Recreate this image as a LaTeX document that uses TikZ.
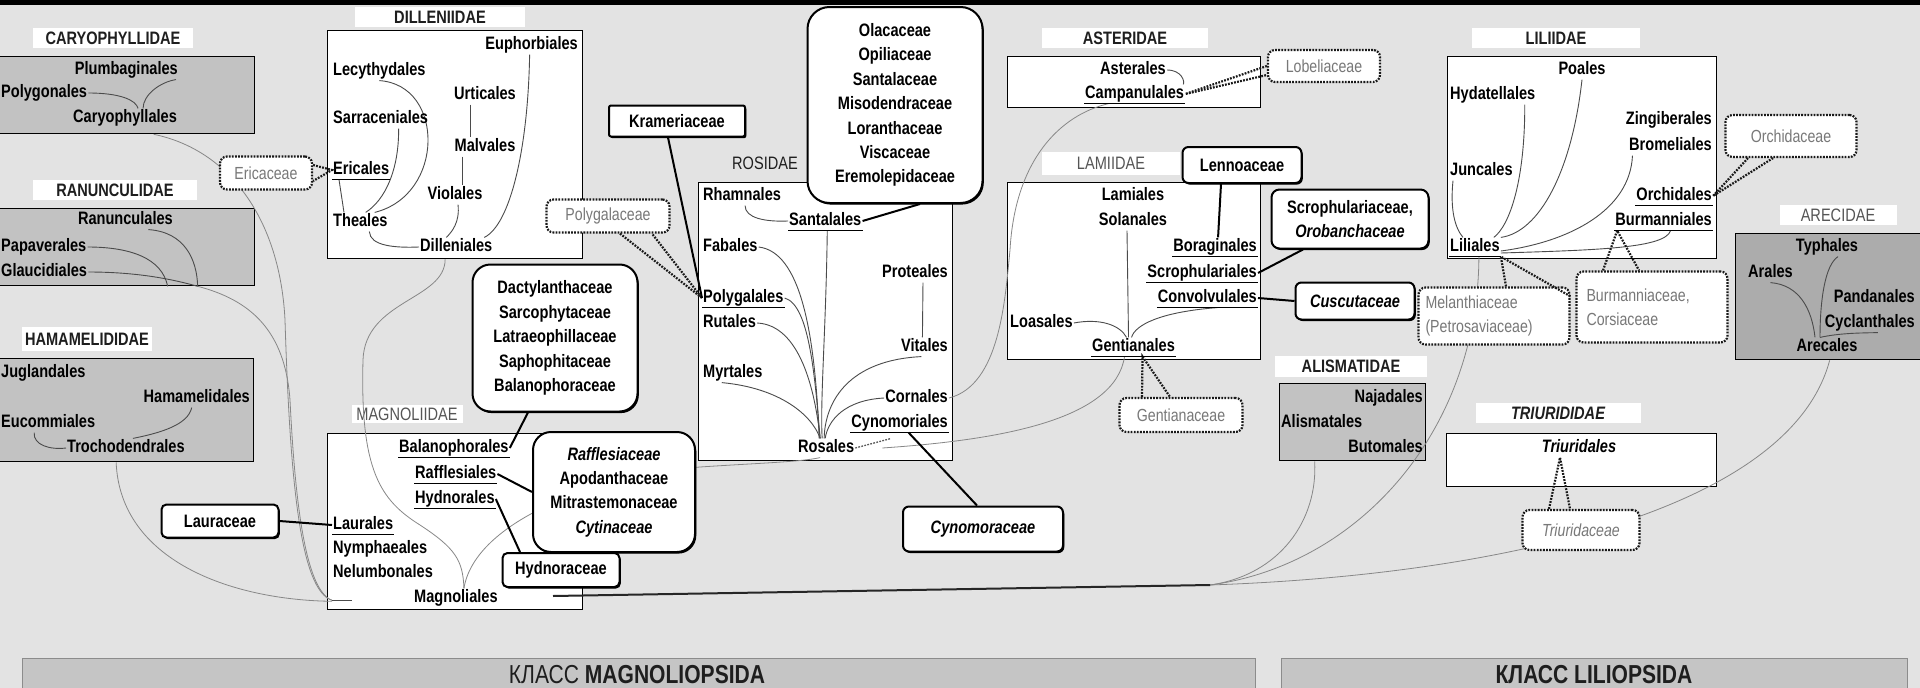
\documentclass[tikz,border=0pt]{standalone}
\usepackage{fontspec}
\setmainfont{Liberation Sans}
\newfontfamily\nf[FakeStretch=0.81]{Liberation Sans}
\usetikzlibrary{shadows,calc}
\definecolor{bgc}{RGB}{227,227,227}
\definecolor{gbox}{RGB}{194,194,194}
\definecolor{abox}{RGB}{172,172,172}
\definecolor{barc}{RGB}{197,197,197}
\definecolor{inln}{RGB}{75,75,75}
\definecolor{outln}{RGB}{135,135,135}
\definecolor{calt}{RGB}{120,120,120}
\definecolor{labt}{RGB}{30,30,30}
\definecolor{labg}{RGB}{85,85,85}
\newcommand\ordf{\nf\bfseries\fontsize{18}{24.4}\selectfont}
\newcommand\regf{\nf\fontsize{18}{24.4}\selectfont}
\newcommand\calf{\nf\fontsize{17.5}{24}\selectfont}
\newcommand\barf{\nf\fontsize{26}{28}\selectfont}
\pgfdeclarelayer{bgl}
\pgfdeclarelayer{crv}
\pgfsetlayers{bgl,crv,main}
\tikzset{
 ord/.style={font=\ordf, text=black, inner sep=1pt, text height=13pt, text depth=3.8pt},
 lab/.style={font=\ordf, text=labt, fill=white, inner sep=0pt},
 labr/.style={lab, font=\regf, text=labg},
 grp/.style={draw=black, line width=1.3pt, fill=white, inner sep=0pt, anchor=north west},
 grpg/.style={grp, fill=gbox},
 fam/.style={draw=black, line width=2pt, fill=white, font=\ordf, align=center, inner sep=0pt, drop shadow={shadow xshift=1.3pt, shadow yshift=-1.6pt, fill=black, opacity=1}},
 cal/.style={draw=black!90, line width=2.2pt, dash pattern=on 1.8pt off 1.3pt, fill=white, rounded corners=7pt, font=\calf, text=calt, inner sep=0pt, align=center},
 ptr/.style={draw=black!90, line width=2.2pt, dash pattern=on 1.8pt off 1.3pt},
 inl/.style={draw=inln, line width=0.9pt},
 outl/.style={draw=outln, line width=0.8pt},
 lnk/.style={draw=black, line width=2pt},
 ul/.style={draw=black, line width=1.7pt},
 barbox/.style={draw=black!45, line width=1.2pt, fill=barc, anchor=north west, inner sep=0pt},
}
\begin{document}
\begin{tikzpicture}[x=1pt,y=-1pt]
\useasboundingbox (0,0) rectangle (1920,688);
\begin{pgfonlayer}{bgl}
\fill[bgc] (0,0) rectangle (1920,688);
\fill[black] (0,0) rectangle (1920,5);
% subclass boxes
\node[grpg, minimum width=256pt, minimum height=77pt] (caryBox) at (-2,56) {};
\node[grpg, minimum width=256pt, minimum height=77pt] (ranBox) at (-2,208) {};
\node[grpg, minimum width=255pt, minimum height=103pt] (hamBox) at (-2,358) {};
\node[grp, minimum width=255pt, minimum height=228pt] (dilBox) at (327,30) {};
\node[grp, minimum width=255pt, minimum height=176pt] (magBox) at (327,433) {};
\node[grp, minimum width=254pt, minimum height=278pt] (rosBox) at (698,182) {};
\node[grp, minimum width=253pt, minimum height=51pt] (astBox) at (1007,56) {};
\node[grp, minimum width=253pt, minimum height=177pt] (lamBox) at (1007,182) {};
\node[grp, minimum width=269pt, minimum height=202pt] (lilBox) at (1447,56) {};
\node[grpg, minimum width=146pt, minimum height=77pt] (aliBox) at (1279,383) {};
\node[grp, minimum width=270pt, minimum height=53pt] (triBox) at (1446,433) {};
\node[grp, fill=abox, minimum width=190pt, minimum height=126pt] (areBox) at (1735,233) {};
% subclass labels
\node[lab, minimum width=160pt, minimum height=20pt] (caryL) at (113,38) {CARYOPHYLLIDAE};
\node[lab, minimum width=164pt, minimum height=20pt] (ranL) at (115,190) {RANUNCULIDAE};
\node[lab, minimum width=130pt, minimum height=24pt] (hamL) at (87,339) {HAMAMELIDIDAE};
\node[lab, minimum width=170pt, minimum height=20pt] (dilL) at (440,17) {DILLENIIDAE};
\node[labr, minimum width=111pt, minimum height=18pt] (magL) at (407,414) {MAGNOLIIDAE};
\node[font=\regf, text=labt, inner sep=0pt] (rosL) at (765,163) {ROSIDAE};
\node[lab, minimum width=166pt, minimum height=20pt] (astL) at (1125,38) {ASTERIDAE};
\node[labr, minimum width=138pt, minimum height=23pt] (lamL) at (1111,163) {LAMIIDAE};
\node[lab, minimum width=168pt, minimum height=20pt] (lilL) at (1556,38) {LILIIDAE};
\node[lab, minimum width=152pt, minimum height=21pt] (aliL) at (1351,366) {ALISMATIDAE};
\node[lab, font=\ordf\itshape, minimum width=165pt, minimum height=20pt] (triL) at (1558,413) {TRIURIDIDAE};
\node[labr, minimum width=117pt, minimum height=20pt] (areL) at (1838,215) {ARECIDAE};
% class bars
\node[barbox, minimum width=1233pt, minimum height=45pt] (magBar) at (22,658) {};
\node[barbox, minimum width=626pt, minimum height=45pt] (lilBar) at (1281,658) {};
\node[font=\barf, text=labt] (magT) at (637,675) {КЛАСС \textbf{MAGNOLIOPSIDA}};
\node[font=\barf\bfseries, text=labt] (lilT) at (1594,675) {КЛАСС LILIOPSIDA};
\end{pgfonlayer}

% ---- order names ----
\node[ord, anchor=east] (plumb) at (179,70) {Plumbaginales};
\node[ord, anchor=west] (polyg) at (0,93) {Polygonales};
\node[ord, anchor=west] (caryo) at (72,118) {Caryophyllales};
\node[ord, anchor=east] (ranun) at (174,220) {Ranunculales};
\node[ord, anchor=west] (papav) at (0,247) {Papaverales};
\node[ord, anchor=west] (glauc) at (0,272) {Glaucidiales};
\node[ord, anchor=west] (jugl) at (0,373) {Juglandales};
\node[ord, anchor=east] (hamam) at (251,398) {Hamamelidales};
\node[ord, anchor=west] (eucom) at (0,423) {Eucommiales};
\node[ord, anchor=west] (troch) at (66,448) {Trochodendrales};
\node[ord, anchor=east] (euph) at (579,45) {Euphorbiales};
\node[ord, anchor=west] (lecy) at (332,71) {Lecythydales};
\node[ord] (urti) at (485,95) {Urticales};
\node[ord, anchor=west] (sarr) at (332,119) {Sarraceniales};
\node[ord] (malv) at (485,147) {Malvales};
\node[ord, anchor=west] (eric) at (332,170) {Ericales};
\node[ord] (viol) at (455,195) {Violales};
\node[ord, anchor=west] (thea) at (332,222) {Theales};
\node[ord, anchor=west] (dill) at (419,247) {Dilleniales};
\node[ord, anchor=west] (balan) at (398,448) {Balanophorales};
\node[ord, anchor=west] (raffl) at (414,474) {Rafflesiales};
\node[ord, anchor=west] (hydno) at (414,499) {Hydnorales};
\node[ord, anchor=west] (laur) at (332,525) {Laurales};
\node[ord, anchor=west] (nymph) at (332,549) {Nymphaeales};
\node[ord, anchor=west] (nelum) at (332,573) {Nelumbonales};
\node[ord, anchor=west] (magno) at (413,598) {Magnoliales};
\node[ord, anchor=west] (rham) at (702,196) {Rhamnales};
\node[ord, anchor=west] (sant) at (788,221) {Santalales};
\node[ord, anchor=west] (faba) at (702,247) {Fabales};
\node[ord, anchor=east] (prot) at (949,273) {Proteales};
\node[ord, anchor=west] (polyga) at (702,298) {Polygalales};
\node[ord, anchor=west] (ruta) at (702,323) {Rutales};
\node[ord, anchor=east] (vita) at (949,347) {Vitales};
\node[ord, anchor=west] (myrt) at (702,373) {Myrtales};
\node[ord, anchor=east] (corn) at (949,398) {Cornales};
\node[ord, anchor=east] (cyno) at (949,423) {Cynomoriales};
\node[ord, anchor=west] (rosa) at (797,448) {Rosales};
\node[ord] (aste) at (1133,70) {Asterales};
\node[ord, anchor=west] (camp) at (1084,94) {Campanulales};
\node[ord] (lami) at (1133,196) {Lamiales};
\node[ord] (sola) at (1133,221) {Solanales};
\node[ord, anchor=east] (bora) at (1258,247) {Boraginales};
\node[ord, anchor=east] (scro) at (1258,273) {Scrophulariales};
\node[ord, anchor=east] (conv) at (1258,298) {Convolvulales};
\node[ord, anchor=west] (loas) at (1009,323) {Loasales};
\node[ord, anchor=west] (gent) at (1091,347) {Gentianales};
\node[ord] (poal) at (1582,70) {Poales};
\node[ord, anchor=west] (hyda) at (1449,95) {Hydatellales};
\node[ord, anchor=east] (zing) at (1713,120) {Zingiberales};
\node[ord, anchor=east] (brom) at (1713,146) {Bromeliales};
\node[ord, anchor=west] (junc) at (1449,171) {Juncales};
\node[ord, anchor=east] (orch) at (1713,196) {Orchidales};
\node[ord, anchor=east] (burm) at (1713,221) {Burmanniales};
\node[ord, anchor=west] (lili) at (1449,247) {Liliales};
\node[ord, anchor=east] (naja) at (1424,398) {Najadales};
\node[ord, anchor=west] (alis) at (1280,423) {Alismatales};
\node[ord, anchor=east] (buto) at (1424,448) {Butomales};
\node[ord, font=\ordf\itshape] (triu) at (1579,448) {Triuridales};
\node[ord] (typh) at (1827,247) {Typhales};
\node[ord, anchor=west] (aral) at (1747,273) {Arales};
\node[ord, anchor=east] (pand) at (1916,298) {Pandanales};
\node[ord, anchor=east] (cycl) at (1916,323) {Cyclanthales};
\node[ord] (arec) at (1827,347) {Arecales};
\coordinate (mstart) at (553,596);
\coordinate (J) at (1210,585);

% ---- curves ----
\begin{pgfonlayer}{crv}
% outer links between subclasses
\draw[outl] ([xshift=27pt]caryBox.south) .. controls (230,150) and (280,220) .. (285,320) .. controls (290,480) and (300,590) .. ([xshift=5pt,yshift=10pt]magBox.south west);
\draw[outl] ([xshift=71pt]ranBox.south) .. controls (250,300) and (285,330) .. (290,400) .. controls (295,500) and (305,590) .. ([xshift=5pt,yshift=10pt]magBox.south west);
\draw[outl] ([xshift=-10pt]hamBox.south) .. controls (120,560) and (230,600) .. ([xshift=5pt,yshift=9pt]magBox.south west);
\draw[inl] ([xshift=5pt,yshift=10pt]magBox.south west) -- ([xshift=25pt,yshift=10pt]magBox.south west);
\draw[outl] ([xshift=-10pt]dilBox.south) .. controls (445,300) and (365,300) .. (363,360) .. controls (360,470) and (380,500) .. (420,525) .. controls (455,548) and (463,560) .. ([xshift=8pt]magno.north);
\draw[outl] ([xshift=8pt]magno.north) .. controls (475,520) and (600,475) .. (700,467) .. controls (760,463) and (800,462) .. ([xshift=-6pt]rosa.south);
\draw[outl] (corn.east) .. controls (1000,385) and (1005,300) .. (1010,250) .. controls (1015,160) and (1060,115) .. ([xshift=-26pt]camp.south);
\draw[outl] ([xshift=27pt]rosa.east) .. controls (1000,440) and (1115,420) .. ([xshift=-9pt]gent.south);
\draw[outl] (J) .. controls (1280,575) and (1318,520) .. ([xshift=-38pt]aliBox.south);
\draw[outl] (J) .. controls (1360,565) and (1478,430) .. ([xshift=4pt]lili.south);
\draw[outl] (J) .. controls (1500,575) and (1790,510) .. ([xshift=-1pt]areBox.south);
% Caryophyllidae
\draw[inl] (polyg.east) .. controls (120,93) and (136,100) .. ([xshift=13pt]caryo.north);
\draw[inl] ([xshift=-3pt]plumb.south east) .. controls (160,82) and (143,95) .. ([xshift=18pt]caryo.north);
% Ranunculidae
\draw[inl] (papav.east) .. controls (130,247) and (162,258) .. ([xshift=41pt]ranBox.south);
\draw[inl] ([xshift=23pt]ranun.south) .. controls (185,232) and (197,260) .. ([xshift=71pt]ranBox.south);
\draw[inl] (glauc.east) .. controls (140,272) and (175,280) .. ([xshift=71pt]ranBox.south);
% Hamamelididae
\draw[inl] ([xshift=-14pt]eucom.south) .. controls (33,445) and (50,450) .. (troch.west);
\draw[inl] ([xshift=-5pt]hamam.south) .. controls (188,425) and (160,433) .. ([xshift=7pt]troch.north);
% Dilleniidae
\draw[inl] (lecy.south) .. controls (445,85) and (445,195) .. ([xshift=-14pt]thea.north east);
\draw[inl] ([xshift=18pt]sarr.south) .. controls (399,170) and (385,200) .. ([xshift=-23pt]thea.north east);
\draw[inl] ([xshift=7pt]eric.south west) -- ([xshift=12pt]thea.north west);
\draw[inl] ([xshift=-15pt]urti.south) -- ([xshift=-15pt]malv.north);
\draw[inl] ([xshift=-23pt]malv.south) -- ([xshift=7pt]viol.north);
\draw[inl] ([xshift=3pt]viol.south) .. controls (460,222) and (452,232) .. ([xshift=-10pt]dill.north);
\draw[inl] ([xshift=-2pt]euph.south) .. controls (528,150) and (510,225) .. ([xshift=28pt]dill.north);
\draw[inl] ([xshift=9pt]thea.south) .. controls (370,246) and (395,248) .. (dill.west);
% Rosidae
\draw[inl] ([xshift=3pt]rham.south) .. controls (745,218) and (765,222) .. (sant.west);
\draw[inl] ([xshift=2pt]sant.south) .. controls (826,330) and (820,400) .. ([xshift=-4pt]rosa.north);
\draw[inl] (faba.east) .. controls (800,252) and (815,330) .. ([xshift=-7pt]rosa.north);
\draw[inl] (polyga.east) .. controls (810,305) and (815,380) .. ([xshift=-6pt]rosa.north);
\draw[inl] (ruta.east) .. controls (800,325) and (815,390) .. ([xshift=-6pt]rosa.north);
\draw[inl] ([xshift=-11pt]myrt.south) .. controls (780,388) and (812,415) .. ([xshift=-6pt]rosa.north);
\draw[inl] ([xshift=-3pt]vita.south) .. controls (850,360) and (825,400) .. ([xshift=-2pt]rosa.north);
\draw[inl] (corn.west) .. controls (845,400) and (828,420) .. ([xshift=-1pt]rosa.north);
\draw[inl] ([xshift=8pt]prot.south) -- ([xshift=-2pt]vita.north);
% Asteridae
\draw[inl] (aste.east) .. controls (1182,70) and (1185,82) .. ([xshift=-2pt]camp.north east);
% Lamiidae
\draw[inl] ([xshift=-6pt]sola.south) -- ([xshift=-5pt]gent.north);
\draw[inl] (loas.east) .. controls (1100,318) and (1120,325) .. ([xshift=-7pt]gent.north);
\draw[inl] ([xshift=10pt]conv.south) .. controls (1160,312) and (1135,325) .. ([xshift=-2pt]gent.north);
% Liliidae
\draw[inl] ([xshift=4pt]junc.south west) .. controls (1450,210) and (1455,228) .. ([xshift=14pt]lili.north west);
\draw[inl] ([xshift=32pt]hyda.south) .. controls (1525,180) and (1510,225) .. ([xshift=-7pt]lili.north east);
\draw[inl] (poal.south) .. controls (1572,170) and (1540,232) .. (lili.north east);
\draw[inl] ([xshift=-38pt]brom.south) .. controls (1630,210) and (1570,242) .. ([yshift=-4pt]lili.east);
\draw[inl] ([yshift=-6pt]lili.east) .. controls (1600,250) and (1665,248) .. ([xshift=7pt]burm.south);
% Arecidae
\draw[inl] (aral.south) .. controls (1800,285) and (1812,310) .. ([xshift=-12pt]arec.north);
\draw[inl] ([xshift=11pt]typh.south) .. controls (1825,265) and (1820,300) .. ([xshift=-7pt]arec.north);
\draw[inl] ([xshift=-7pt]arec.north) .. controls (1840,333) and (1860,333) .. ([xshift=8pt]cycl.south);
\end{pgfonlayer}

% ---- family boxes ----
\node[fam, rounded corners=18pt, minimum width=165pt, minimum height=147pt] (dactB) at (555,338) {Dactylanthaceae\\Sarcophytaceae\\Latraeophillaceae\\Saphophitaceae\\Balanophoraceae};
\node[fam, rounded corners=18pt, minimum width=162pt, minimum height=120pt] (raffB) at (614,492) {\textit{Rafflesiaceae}\\Apodanthaceae\\Mitrastemonaceae\\\textit{Cytinaceae}};
\node[fam, rounded corners=5pt, minimum width=117pt, minimum height=34pt] (hydnB) at (561,570) {Hydnoraceae};
\node[fam, rounded corners=5pt, minimum width=117pt, minimum height=33pt] (laurB) at (220,521) {Lauraceae};
\node[fam, rounded corners=2pt, minimum width=136pt, minimum height=31pt] (kramB) at (677,121) {Krameriaceae};
\node[fam, rounded corners=22pt, minimum width=175pt, minimum height=196pt] (olacB) at (895,105) {Olacaceae\\Opiliaceae\\Santalaceae\\Misodendraceae\\Loranthaceae\\Viscaceae\\Eremolepidaceae};
\node[fam, rounded corners=6pt, minimum width=160pt, minimum height=45pt] (cynoB) at (983,529) {\textit{Cynomoraceae}};
\node[fam, rounded corners=6pt, minimum width=119pt, minimum height=36pt] (lennB) at (1242,165) {Lennoaceae};
\node[fam, rounded corners=8pt, minimum width=157pt, minimum height=59pt] (scroB) at (1350,219) {Scrophulariaceae,\\\textit{Orobanchaceae}};
\node[fam, rounded corners=6pt, minimum width=119pt, minimum height=37pt] (cuscB) at (1355,301) {\textit{Cuscutaceae}};

% ---- callouts ----
\node[cal, minimum width=92pt, minimum height=33pt] (ericC) at (266,173) {Ericaceae};
\node[cal, minimum width=123pt, minimum height=33pt] (polyC) at (608,216) {Polygalaceae};
\node[cal, minimum width=112pt, minimum height=32pt] (lobeC) at (1324,66) {Lobeliaceae};
\node[cal, minimum width=123pt, minimum height=34pt] (gentC) at (1181,415) {Gentianaceae};
\node[cal, minimum width=131pt, minimum height=42pt] (orchC) at (1791,136) {Orchidaceae};
\node[cal, align=left, text width=137pt, minimum width=151pt, minimum height=57pt] (melaC) at (1494,316) {Melanthiaceae\\(Petrosaviaceae)};
\node[cal, align=left, text width=131pt, minimum width=151pt, minimum height=71pt] (burmC) at (1652,307) {Burmanniaceae,\\Corsiaceae};
\node[cal, font=\calf\itshape, minimum width=117pt, minimum height=40pt] (triuC) at (1581,530) {Triuridaceae};
% pointers
\draw[ptr] ([yshift=8pt]ericC.east) -- (eric.west) -- ([yshift=-8pt]ericC.east);
\draw[ptr] ([xshift=12pt]polyC.south) -- (polyga.west) -- ([xshift=44pt]polyC.south);
\draw[ptr] (lobeC.west) -- (camp.east) -- ([yshift=-9pt]lobeC.west);
\draw[ptr] ([xshift=-39pt]gentC.north) -- ([xshift=9pt]gent.south) -- ([xshift=-11pt]gentC.north);
\draw[ptr] ([xshift=-43pt]orchC.south) -- (orch.east) -- ([xshift=-18pt]orchC.south);
\draw[ptr] ([xshift=12pt]melaC.north) -- (lili.south east) -- ([yshift=-10pt]melaC.north east);
\draw[ptr] ([xshift=-49pt]burmC.north) -- ([xshift=3pt]burm.south west) -- ([xshift=-13pt]burmC.north);
\draw[ptr] ([xshift=-32pt]triuC.north) -- ([xshift=-19pt]triu.south) -- ([xshift=-11pt]triuC.north);
\draw[ptr, line width=1.3pt, draw=black!65] (rosa.east) -- ([xshift=-9pt,yshift=-6pt]cyno.south);

% ---- links ----
\draw[lnk] (laurB.east) -- (laur.west);
\draw[lnk] ([xshift=-9pt]kramB.south) -- (polyga.west);
\draw[lnk] (sant.east) -- ([xshift=25pt]olacB.south);
\draw[lnk] ([xshift=9pt]cyno.south) -- ([xshift=-6pt]cynoB.north);
\draw[lnk] (balan.east) -- ([xshift=-27pt]dactB.south);
\draw[lnk] (raffl.east) -- (raffB.west);
\draw[lnk] (hydno.east) -- ([xshift=-41pt]hydnB.north);
\draw[lnk] ([xshift=-21pt]lennB.south) -- ([xshift=3pt]bora.north);
\draw[lnk] (scro.east) -- ([xshift=-47pt]scroB.south);
\draw[lnk] (conv.east) -- (cuscB.west);
\draw[lnk, draw=black!85] (mstart) -- (J);

% ---- underlines ----
\foreach \n in {eric,balan,raffl,hydno,laur,sant,polyga,cyno,camp,bora,scro,conv,gent,orch,burm,lili}
  \draw[ul] (\n.south west) -- (\n.south east);
\end{tikzpicture}
\end{document}
